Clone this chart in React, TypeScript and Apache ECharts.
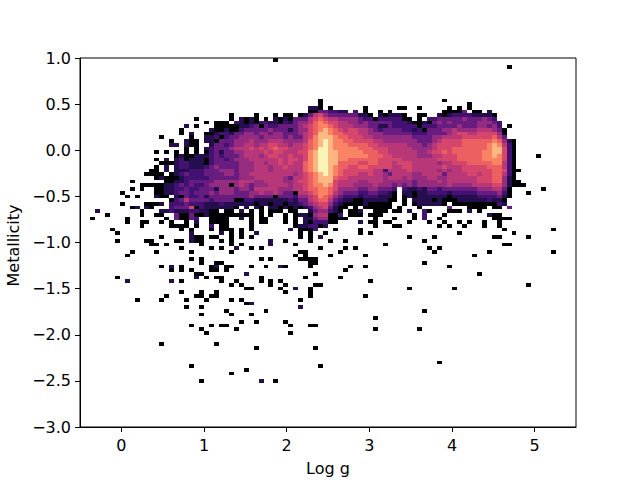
import React, { useEffect, useRef } from "react";
import * as echarts from "echarts";

// 2-D histogram: 100 x 100 bins over log g -0.5..5.5, metallicity 1..-3.
// Each row of text = one metallicity bin (row index from the top), columns from bin 10 to bin 89.
// '.' = empty, 0-9 and 'a' = colour level of the log-scaled count.
const firstRow = 13;
const firstColumn = 10;
const denseRows: string[] = [
  ".......... .......... .......... ......110. 0......0.. ....00..0. ....0.0.0. ..........", // 13
  ".......... .......... .......... ......0033 2211.2.0.. 0.0....... ...00003.0 0.1.......", // 14
  ".......... .......... 0....0...0 .00.013564 333333110. 101110..00 ..10122221 1110......", // 15
  ".......... ...0...... 0.1010.0.1 0103335676 5544443220 2222200.0. 2233333433 3432......", // 16
  ".......... .....0.000 .210102211 0213445787 6655443433 3332221001 0343433333 44432.....", // 17
  ".......... .1.0...000 0011230322 3333456788 7655544433 1132222202 2233334333 44342.....", // 18
  ".......... 0.....1001 0023333343 3313446789 8765665543 2333322120 3334454444 555430....", // 19
  ".......... 0.1..00122 1334434434 4333456799 8776665544 4333333222 3333456655 666642....", // 20
  "......0... ..0..11202 3344443444 4343356899 9877666554 4444444333 3445555666 666753....", // 21
  "........0. .100.11033 3444544455 544445789a 9887766665 5444444433 3456666777 77787410..", // 22
  "........11 .100..1332 3445545566 554556789a 9888777766 5555554443 4566666777 77898520..", // 23
  ".......... .0.0.12333 4555656567 66555678aa 9888887776 6655555444 4566677777 77899620..", // 24
  ".....0.0.0 .0.0.02313 3445555656 65556689aa 9988888777 6655555544 5667677777 78899620..", // 25
  ".........0 1001112323 3345554566 55655689aa 9988888877 7665555544 4556667777 78898620..", // 26
  ".....0.1.1 2011102332 3444555555 65665689aa 9988777777 6666655555 5566667777 78888620..", // 27
  "......0001 2211102333 3344455455 65655789aa 9977776677 6665666555 5545566677 77788520..", // 28
  ".....0.1.1 2211123433 3344455545 56555789aa 9877667766 6665566555 5556555666 66777520..", // 29
  "....00.1.1 1122233344 4344455545 55555789aa 9876666665 5255556555 5545455666 66677620..", // 30
  "...0000.01 2322233334 4344555555 555456789a 9876665565 5435555445 5553555566 56677520..", // 31
  ".....01000 1222223333 3344455555 5435567899 9766555555 5455545444 5544555555 66677410..", // 32
  "0......001 1233333444 4455544555 5445667899 9655554455 5444444344 4454555555 666774100.", // 33
  "..00000112 3232234444 0454344455 5545567889 8655544445 4443434344 4444544445 555664100.", // 34
  "0.0..00112 2322333144 4344355555 4445567788 7644443344 3332.21121 3323333333 444553 0...", // 35
  ".....00112 3323334344 4333445445 4330556788 7543332233 2210.11011 2222122222 3333420...", // 36
  ".0...100.1 0322313333 3333433330 3332445687 6432221222 1110.01011 1111011111 2222310...", // 37
  "........02 3533332333 3002211111 1121335677 5321100111 1100.0.111 1010001111 112110....", // 38
  "...0001.22 2322211121 1111101101 1011234566 4210000100 000..0.011 1110.00000 000021....", // 39
  "01.10...23 3360211111 10.1.10.11 0101012456 3100.0.000 000.0...0. ....3...00 00.00.3...", // 40
  "..0...1121 11221100.0 0.1.0.0.00 0.00..1344 210.001..0 00.00.1..2 0...000.1. 0.........", // 41
  "..0..00..3 0030010000 00000.0.0. .0.0110455 002.000.00 0......0.2 ...0...... ..100.....", // 42
  ".......0.3 0032..0000 ..1.0.00.. .0.0.11344 0000.....0 ...0...0.2 ..0....... ...0000...", // 43
  "..00..0.0. .0.1..0000 ....0.00.. .0.0.10222 00....1.00 .00...0... 0..0..0.0. .0..0.....", // 44
  "..0.....00 00.0..2.00 ....0..... ...0112201 .........0 ...00..... ..0.0..0.. .0..0.....", // 45
  ".......... 0.0...0.00 0.0.0..... ..1.0002.. .0....0... .......... .......... .....0....", // 46
];

// Isolated bins as [column, row].
const sparseBlack: number[][] = [
  [39,0],[86,2],[48,11],[73,11],[48,12],[78,12],[85,19],[85,20],[86,18],[87,22],[87,23],[87,24],[87,25],[87,26],[92,26],
  [88,30],[87,31],[89,34],[90,36],[93,35],[8,36],[9,37],[8,39],[5,42],[2,43],[9,43],[9,44],[6,46],[95,46],
  [7,47],[30,47],[32,47],[44,47],[46,47],[49,47],[56,47],[58,47],[76,47],[87,47],
  [16,48],[23,48],[24,48],[26,48],[27,48],[30,48],[32,48],[34,48],[44,48],[46,48],[66,48],[71,48],[83,48],[84,48],[90,48],
  [7,49],[13,49],[14,49],[19,49],[20,49],[23,49],[24,49],[28,49],[30,49],[41,49],[46,49],[50,49],[53,49],[69,49],
  [14,50],[15,50],[17,50],[24,50],[30,50],[32,50],[43,50],[61,50],[85,50],[86,50],
  [20,51],[26,51],[28,51],[34,51],[36,51],[48,51],[53,51],[55,51],[70,51],[72,51],
  [10,52],[15,52],[22,52],[30,52],[44,52],[45,52],[52,52],[71,52],[82,52],[95,52],
  [9,53],[43,53],[45,53],[50,53],[57,53],[79,53],
  [22,54],[24,54],[36,54],[38,54],[44,54],[45,54],[46,54],[47,54],
  [24,55],[27,55],[28,55],[46,55],[47,55],[69,55],
  [16,56],[20,56],[26,56],[29,56],[30,56],[34,56],[37,56],[41,56],[46,56],[54,56],[57,56],[74,56],
  [18,57],[20,57],[22,57],[26,57],[27,57],[29,57],[53,57],
  [23,58],[24,58],[47,58],[80,58],
  [7,59],[25,59],[27,59],[28,59],[36,59],[45,59],[52,59],
  [20,60],[28,60],[31,60],[36,60],[38,60],[40,60],[58,60],
  [30,61],[32,61],[38,61],[41,61],[47,61],[48,61],[90,61],
  [33,62],[34,62],[40,62],[46,62],[66,62],[75,62],
  [20,63],[24,63],[27,63],[41,63],[46,63],
  [17,64],[23,64],[24,64],[26,64],[27,64],[46,64],[57,64],
  [11,65],[16,65],[21,65],[25,65],[30,65],[32,65],[44,65],
  [33,66],[21,67],[24,67],[29,68],[37,68],[69,68],
  [24,69],[30,69],[34,69],[59,70],[32,71],[35,71],[41,71],
  [22,72],[26,72],[28,72],[29,72],[42,72],[46,72],[47,72],
  [24,73],[31,73],[59,73],[68,73],[25,74],[42,74],
  [16,77],[27,77],[35,78],[47,78],[72,82],[22,83],[48,83],[33,84],[30,85],[24,87],[39,87],
];
const sparsePurple: number[][] = [
  [3,41],[48,48],[22,47],[22,48],[22,49],[28,47],[35,47],[38,49],[38,50],[31,51],
  [18,56],[27,56],[40,56],[33,58],[23,59],[9,60],[18,60],[43,62],[34,66],[44,67],[36,87],
];

const levelPosition = [0, 0.14, 0.22, 0.31, 0.42, 0.5, 0.58, 0.66, 0.74, 0.85, 0.98];
const magmaStops = ["#000004", "#140e36", "#3b0f70", "#641a80", "#8c2981", "#b73779", "#de4968", "#f7705c", "#fe9f6d", "#fecf92", "#fcfdbf"];

const xTicks = [0, 1, 2, 3, 4, 5];

function magma(level: number): string {
  const t = levelPosition[level] * 10;
  const a = Math.min(Math.floor(t), 9);
  const f = t - a;
  const hex = (s: string, k: number) => parseInt(s.slice(1 + 2 * k, 3 + 2 * k), 16);
  const c = [0, 1, 2].map((k) => Math.round(hex(magmaStops[a], k) * (1 - f) + hex(magmaStops[a + 1], k) * f));
  return `rgb(${c[0]},${c[1]},${c[2]})`;
}

const binWidth = 6 / 100;
const binHeight = 4 / 100;
const toCell = (col: number, row: number, level: number) => [-0.5 + col * binWidth, 1 - (row + 1) * binHeight, level];

function buildCells(): number[][] {
  const cells: number[][] = [];
  denseRows.forEach((text, r) => {
    const s = text.replace(/ /g, "");
    for (let k = 0; k < s.length; k++) {
      const ch = s[k];
      if (ch === ".") continue;
      cells.push(toCell(firstColumn + k, firstRow + r, ch === "a" ? 10 : Number(ch)));
    }
  });
  sparseBlack.forEach(([c, r]) => cells.push(toCell(c, r, 0)));
  sparsePurple.forEach(([c, r]) => cells.push(toCell(c, r, 1)));
  return cells;
}

const font = "DejaVu Sans";
const fontSize = 16;
const fmt = (v: number) => String(v).replace("-", "\u2212");

export default function App() {
  const ref = useRef<HTMLDivElement>(null);
  useEffect(() => {
    document.body.style.margin = "0";
    const chart = echarts.init(ref.current!, undefined, { renderer: "svg" });
    chart.setOption({
      animation: false,
      backgroundColor: "#fff",
      grid: { left: 80, top: 58, right: 64, bottom: 53, outerBoundsMode: "none", show: true, borderColor: "#000", borderWidth: 1, backgroundColor: "transparent" },
      xAxis: {
        type: "value",
        min: -0.5,
        max: 5.5,
        name: "Log g",
        nameLocation: "middle",
        nameGap: 33,
        nameTextStyle: { fontFamily: font, fontSize: 16, color: "#000" },
        splitLine: { show: false },
        axisLine: { onZero: false, lineStyle: { color: "#000", width: 1 } },
        axisTick: { length: 5, customValues: xTicks, lineStyle: { color: "#000", width: 1 } },
        axisLabel: { customValues: xTicks, fontFamily: font, fontSize, color: "#000", margin: 10, formatter: fmt },
      },
      yAxis: {
        type: "value",
        min: -3,
        max: 1,
        interval: 0.5,
        name: "Metallicity",
        nameLocation: "middle",
        nameGap: 57,
        nameTextStyle: { fontFamily: font, fontSize: 16, color: "#000", padding: [0, 6, 0, 0] },
        splitLine: { show: false },
        axisLine: { onZero: false, lineStyle: { color: "#000", width: 1 } },
        axisTick: { length: 5, lineStyle: { color: "#000", width: 1 } },
        axisLabel: { fontFamily: font, fontSize, color: "#000", margin: 9, showMinLabel: true, showMaxLabel: true, formatter: (v: number) => fmt(Number(v.toFixed(1))).replace(/^(\u2212?\d)$/, "$1.0") },
      },
      series: [
        {
          type: "custom",
          coordinateSystem: "cartesian2d",
          encode: { x: 0, y: 1 },
          data: buildCells(),
          clip: true,
          renderItem: (_p: any, api: any) => {
            const x = api.value(0);
            const y = api.value(1);
            const a = api.coord([x, y + binHeight]);
            const b = api.coord([x + binWidth, y]);
            const left = Math.round(a[0]);
            const top = Math.round(a[1]);
            return {
              type: "rect",
              shape: { x: left, y: top, width: Math.round(b[0]) - left, height: Math.round(b[1]) - top },
              style: { fill: magma(api.value(2)), stroke: null },
            };
          },
        },
      ],
    });
    return () => chart.dispose();
  }, []);
  return <div ref={ref} style={{ width: 640, height: 480 }} />;
}
